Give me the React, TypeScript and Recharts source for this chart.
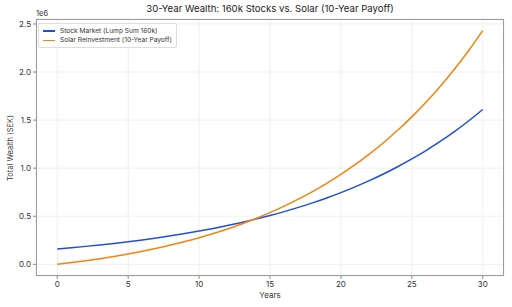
import React from "react";
import { LineChart, Line, XAxis, YAxis, CartesianGrid } from "recharts";

const years = [
  0, 1, 2, 3, 4, 5, 6, 7, 8, 9, 10, 11, 12, 13, 14, 15, 16, 17, 18, 19, 20,
  21, 22, 23, 24, 25, 26, 27, 28, 29, 30,
];

const stockValues = [
  160000, 172800, 186624, 201554, 217678, 235093, 253900, 274212, 296149,
  319841, 345429, 373063, 402908, 435141, 469952, 507548, 548152, 592004,
  639364, 690513, 745754, 805414, 869847, 939435, 1014590, 1095757, 1183418,
  1278091, 1380339, 1490766, 1610027,
];

const solarValues = [
  0, 17670, 37107, 58459, 81888, 107565, 135680, 166433, 200045, 236752,
  276810, 320494, 368104, 419962, 476417, 537846, 604655, 677284, 756209,
  841943, 935040, 1036100, 1145770, 1264750, 1393790, 1533720, 1685400,
  1849810, 2027950, 2220950, 2430010,
];

const xTicks = [0, 5, 10, 15, 20, 25, 30];
const yTicks = [0, 500000, 1000000, 1500000, 2000000, 2500000];

const seriesNames = ["Stock Market (Lump Sum 160k)", "Solar Reinvestment (10-Year Payoff)"];
const colors = ["#1f4fd6", "#f5820b"];

const data = years.map((y, i) => ({
  year: y,
  stock: stockValues[i],
  solar: solarValues[i],
}));

const FONT = "Inter, 'Open Sans', sans-serif";
const tickStyle = { fill: "#333", fontSize: 8, fontFamily: FONT };

export default function App() {
  return (
    <div style={{ position: "absolute", left: 0, top: 0, width: 512, height: 307, background: "#fff", fontFamily: FONT }}>
      <LineChart width={512} height={307} data={data} margin={{ top: 19, right: 8, bottom: 0, left: 0 }}>
        <CartesianGrid stroke="#ebebeb" strokeWidth={0.8} />
        <XAxis
          dataKey="year"
          type="number"
          domain={[-1.5, 31.5]}
          ticks={xTicks}
          height={31}
          tick={tickStyle}
          tickSize={3}
          tickMargin={2}
          axisLine={false}
          tickLine={{ stroke: "#888" }}
        />
        <YAxis
          type="number"
          domain={[-121500, 2551500]}
          ticks={yTicks}
          width={36}
          tick={tickStyle}
          tickSize={3}
          tickMargin={2}
          axisLine={false}
          tickLine={{ stroke: "#888" }}
          tickFormatter={(v: number) => (v / 1e6).toFixed(1)}
        />
        <Line dataKey="stock" type="monotone" stroke={colors[0]} strokeWidth={1.5} dot={false} isAnimationActive={false} />
        <Line dataKey="solar" type="monotone" stroke={colors[1]} strokeWidth={1.5} dot={false} isAnimationActive={false} />
      </LineChart>

      {/* plot frame */}
      <div style={{ position: "absolute", left: 36, top: 19, width: 468, height: 257, border: "1px solid #9a9a9a", boxSizing: "border-box", pointerEvents: "none" }} />

      <div style={{ position: "absolute", left: 36, width: 468, top: 3, textAlign: "center", fontSize: 9.6, color: "#222" }}>
        30-Year Wealth: 160k Stocks vs. Solar (10-Year Payoff)
      </div>
      <div style={{ position: "absolute", left: 36, top: 9, fontSize: 7.5, color: "#333" }}>1e6</div>
      <div style={{ position: "absolute", left: 36, width: 468, top: 290, textAlign: "center", fontSize: 8, color: "#333" }}>Years</div>
      <div
        style={{
          position: "absolute",
          left: 10,
          top: 148,
          fontSize: 7.5,
          color: "#333",
          whiteSpace: "nowrap",
          transform: "translate(-50%, -50%) rotate(-90deg)",
        }}
      >
        Total Wealth (SEK)
      </div>

      {/* legend */}
      <div
        style={{
          position: "absolute",
          left: 38,
          top: 23,
          padding: "2px 4px",
          border: "1px solid #ddd",
          borderRadius: 2,
          background: "rgba(255,255,255,0.9)",
          fontSize: 6.6,
          color: "#333",
        }}
      >
        {seriesNames.map((n, i) => (
          <div key={n} style={{ display: "flex", alignItems: "center", height: 9.5 }}>
            <span style={{ display: "inline-block", width: 12, height: 1.5, background: colors[i], marginRight: 5 }} />
            {n}
          </div>
        ))}
      </div>
    </div>
  );
}
